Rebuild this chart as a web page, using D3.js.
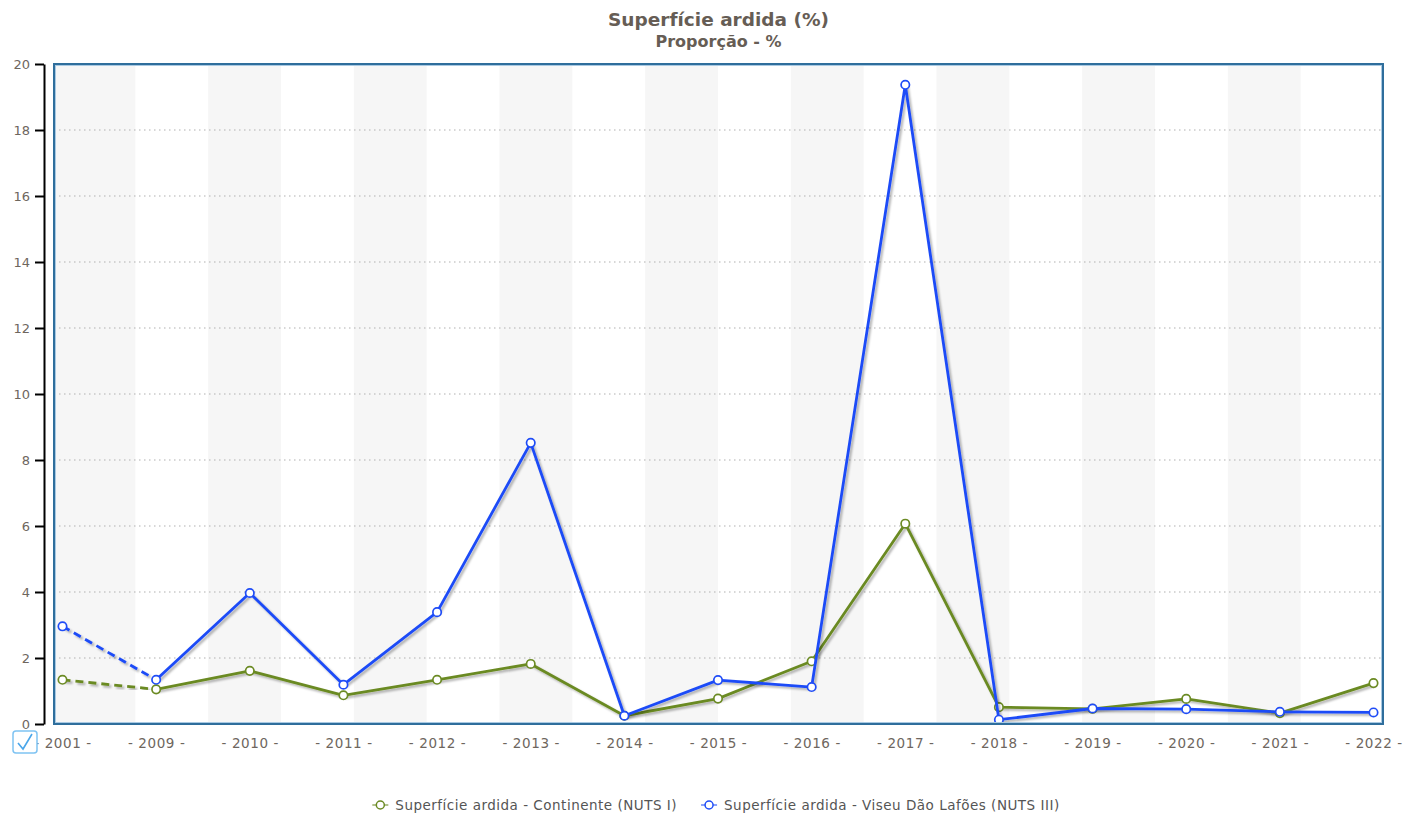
<!DOCTYPE html>
<html>
<head>
<meta charset="utf-8">
<script src="https://cdn.jsdelivr.net/npm/d3@7"></script>
<style>
  body { margin: 0; background: #fff; }
  text { font-family: "DejaVu Sans", Verdana, sans-serif; }
</style>
</head>
<body>
<svg id="chart" width="1405" height="814"></svg>
<script>
// data
var years = ['2001', '2009', '2010', '2011', '2012', '2013', '2014', '2015',
             '2016', '2017', '2018', '2019', '2020', '2021', '2022'];
var continente = [1.34, 1.05, 1.61, 0.87, 1.34, 1.82, 0.25, 0.77,
                  1.90, 6.07, 0.51, 0.46, 0.76, 0.33, 1.24];
var viseu = [2.96, 1.34, 3.97, 1.19, 3.39, 8.52, 0.25, 1.33,
             1.12, 19.37, 0.13, 0.47, 0.45, 0.37, 0.35];
var yTicks = [0, 2, 4, 6, 8, 10, 12, 14, 16, 18, 20];
var seriesNames = ['Superfície ardida - Continente (NUTS I)',
                   'Superfície ardida - Viseu Dão Lafões (NUTS III)'];
var seriesColors = ['#6b8a23', '#1f4cf7'];

var pLeft = 54, pRight = 1383, pTop = 64, pBottom = 724;

var svg = d3.select('#chart');

var defs = svg.append('defs');
var f = defs.append('filter').attr('id', 'shadow')
  .attr('x', '-5%').attr('y', '-5%').attr('width', '110%').attr('height', '110%');
f.append('feDropShadow').attr('dx', 2).attr('dy', 2)
  .attr('stdDeviation', 1.3).attr('flood-color', '#000').attr('flood-opacity', 0.3);

var x = d3.scalePoint().domain(years).range([pLeft + 8.5, pRight - 9.5]);
var y = d3.scaleLinear().domain([0, 20]).range([pBottom, pTop]);

// alternating stripes behind the plot
var x0 = x(years[0]), x1 = x(years[years.length - 1]);
var nStripes = 18, sw = (x1 - x0) / nStripes;
var stripes = d3.range(0, nStripes, 2);
svg.selectAll('rect.stripe')
  .data(stripes)
  .enter()
  .append('rect')
    .attr('class', 'stripe')
    .attr('x', function(i) { return i == 0 ? pLeft : x0 + i * sw; })
    .attr('y', pTop)
    .attr('width', function(i) { return i == 0 ? x0 + sw - pLeft : sw; })
    .attr('height', pBottom - pTop)
    .attr('fill', '#f6f6f6');

// dotted grid
svg.selectAll('line.grid')
  .data(yTicks.filter(function(d) { return d > 0 && d < 20; }))
  .enter()
  .append('line')
    .attr('x1', pLeft).attr('x2', pRight)
    .attr('y1', function(d) { return y(d); })
    .attr('y2', function(d) { return y(d); })
    .attr('stroke', '#b0b0b0')
    .attr('stroke-width', 1.2)
    .attr('stroke-dasharray', '1.5,3.5');

// y axis
var yAxis = svg.append('g')
  .attr('transform', 'translate(44,0)')
  .call(d3.axisLeft(y).tickValues(yTicks).tickSize(9).tickSizeOuter(0).tickPadding(5));
yAxis.select('.domain').attr('stroke', '#000').attr('stroke-width', 2);
yAxis.selectAll('.tick line').attr('stroke', '#000').attr('stroke-width', 2);
yAxis.selectAll('.tick text')
  .attr('fill', '#6e665e')
  .style('font-size', '13px')
  .style('font-family', '"DejaVu Sans", Verdana, sans-serif');

// x axis labels
var xAxis = svg.append('g')
  .attr('transform', 'translate(0,' + pBottom + ')')
  .call(d3.axisBottom(x).tickSize(0).tickPadding(14)
    .tickFormat(function(d) { return '- ' + d + ' -'; }));
xAxis.select('.domain').remove();
xAxis.selectAll('.tick text')
  .attr('fill', '#6e665e')
  .style('font-size', '13.5px')
  .style('letter-spacing', '0.6px')
  .style('font-family', '"DejaVu Sans", Verdana, sans-serif');

// lines
var line = d3.line()
  .x(function(d) { return x(d.year); })
  .y(function(d) { return y(d.v); });

[continente, viseu].forEach(function(vals, s) {
  var pts = vals.map(function(v, i) { return { year: years[i], v: v }; });
  var g = svg.append('g');
  g.append('path')
    .attr('d', line(pts.slice(0, 2)))
    .attr('fill', 'none')
    .attr('stroke', seriesColors[s])
    .attr('stroke-width', 2.8)
    .attr('stroke-dasharray', '8,5')
    .attr('filter', 'url(#shadow)');
  g.append('path')
    .attr('d', line(pts.slice(1)))
    .attr('fill', 'none')
    .attr('stroke', seriesColors[s])
    .attr('stroke-width', 2.8)
    .attr('stroke-linejoin', 'round')
    .attr('filter', 'url(#shadow)');
  g.selectAll('circle')
    .data(pts)
    .enter()
    .append('circle')
      .attr('cx', function(d) { return x(d.year); })
      .attr('cy', function(d) { return y(d.v); })
      .attr('r', 4.2)
      .attr('fill', '#fff')
      .attr('stroke', seriesColors[s])
      .attr('stroke-width', 1.7);
});

// plot frame
svg.append('rect')
  .attr('x', pLeft).attr('y', pTop)
  .attr('width', pRight - pLeft).attr('height', pBottom - pTop)
  .attr('fill', 'none').attr('stroke', '#2f6e9c').attr('stroke-width', 2);
svg.append('rect')
  .attr('x', pLeft + 1.5).attr('y', pTop + 1.5)
  .attr('width', pRight - pLeft - 3).attr('height', pBottom - pTop - 3)
  .attr('fill', 'none').attr('stroke', '#a9c9e2').attr('stroke-width', 1);

// titles
var cx = (pLeft + pRight) / 2;
svg.append('text')
  .attr('x', cx).attr('y', 26)
  .attr('text-anchor', 'middle')
  .attr('fill', '#665d55')
  .style('font-weight', 'bold')
  .style('font-size', '18.5px')
  .text('Superfície ardida (%)');
svg.append('text')
  .attr('x', cx).attr('y', 47)
  .attr('text-anchor', 'middle')
  .attr('fill', '#665d55')
  .style('font-weight', 'bold')
  .style('font-size', '16px')
  .text('Proporção - %');

// checkbox
var cb = svg.append('g').attr('transform', 'translate(13,731)');
cb.append('rect')
  .attr('width', 24).attr('height', 22).attr('rx', 3)
  .attr('fill', '#fff').attr('stroke', '#7fc3f2').attr('stroke-width', 1.5);
cb.append('path')
  .attr('d', 'M5,12 L10,18 L19,3')
  .attr('fill', 'none').attr('stroke', '#4aa6ea').attr('stroke-width', 1.6);

// legend
var legend = svg.append('g');
var lx = 0;
seriesNames.forEach(function(name, s) {
  var item = legend.append('g').attr('transform', 'translate(' + lx + ',0)');
  item.append('line')
    .attr('x1', 0).attr('x2', 16).attr('y1', 0).attr('y2', 0)
    .attr('stroke', seriesColors[s]).attr('stroke-width', 1.5).attr('opacity', 0.7);
  item.append('circle')
    .attr('cx', 8).attr('cy', 0).attr('r', 4)
    .attr('fill', '#fff').attr('stroke', seriesColors[s]).attr('stroke-width', 1.5);
  var t = item.append('text')
    .attr('x', 23).attr('y', 5)
    .attr('fill', '#555')
    .style('font-size', '13.5px')
    .style('letter-spacing', '0.5px')
    .text(name);
  lx += 23 + t.node().getComputedTextLength() + 24;
});
var lw = lx - 24;
legend.attr('transform', 'translate(' + (716 - lw / 2) + ',805)');
</script>
</body>
</html>
